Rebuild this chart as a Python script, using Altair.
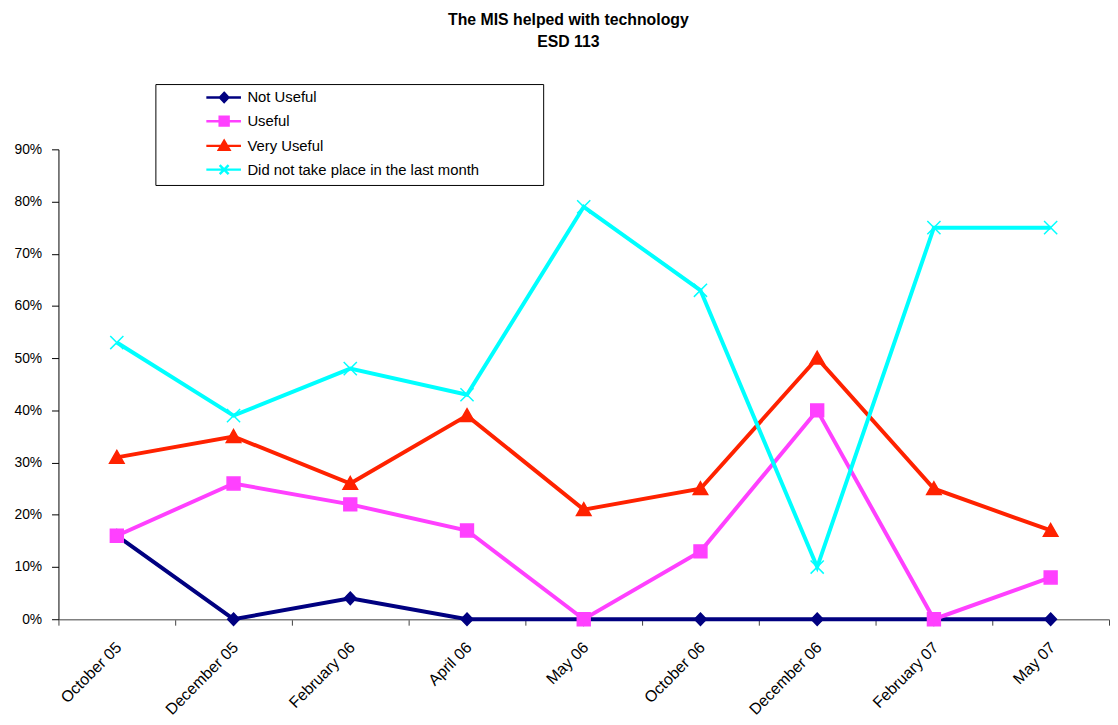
import altair as alt
import pandas as pd

months = ["October 05", "December 05", "February 06", "April 06", "May 06",
          "October 06", "December 06", "February 07", "May 07"]
series = ["Not Useful", "Useful", "Very Useful", "Did not take place in the last month"]

not_useful = [16, 0, 4, 0, 0, 0, 0, 0, 0]
useful = [16, 26, 22, 17, 0, 13, 40, 0, 8]
very_useful = [31, 35, 26, 39, 21, 25, 50, 25, 17]
did_not = [53, 39, 48, 43, 79, 63, 10, 75, 75]

colors = ["#000080", "#FF40FF", "#FF2200", "#00FFFF"]
y_ticks = [0, 0.1, 0.2, 0.3, 0.4, 0.5, 0.6, 0.7, 0.8, 0.9]

rows = []
for name, vals in zip(series, [not_useful, useful, very_useful, did_not]):
    for m, v in zip(months, vals):
        rows.append({"month": m, "series": name, "value": v / 100})
df = pd.DataFrame(rows)

# marker shapes on the chart
marker_paths = [
    "M0,-0.9L0.85,0L0,0.9L-0.85,0Z",
    "M-0.93,-0.93H0.93V0.93H-0.93Z",
    "M0,-1L1.05,0.85H-1.05Z",
    "M-0.95,-0.95L0.95,0.95M-0.95,0.95L0.95,-0.95",
]
# legend symbols: line segment with marker
legend_paths = [
    "M-3.6,0H3.4M0,-0.9L0.85,0L0,0.9L-0.85,0Z",
    "M-3.6,0H3.4M-0.9,-0.9H0.9V0.9H-0.9Z",
    "M-3.6,0H3.4M0,-1L1.05,0.8H-1.05Z",
    "M-3.6,0H3.4M-0.9,-0.9L0.9,0.9M-0.9,0.9L0.9,-0.9",
]

FONT = "Liberation Sans"

x_enc = alt.X("month:N", sort=months,
              scale=alt.Scale(domain=months, range=[0, 1062], paddingInner=0, paddingOuter=0),
              axis=alt.Axis(title=None, labelAngle=-45, labelAlign="right", labelBaseline="top",
                            labelFont=FONT, labelFontSize=16, labelColor="#000000",
                            labelPadding=14, labelOffset=-4, tickBand="extent", tickSize=6,
                            tickColor="#404040", domainColor="#808080", domainWidth=1.5,
                            grid=False, labelOverlap=False))
y_enc = alt.Y("value:Q",
              scale=alt.Scale(domain=[0, 0.9], nice=False),
              axis=alt.Axis(title=None, format=".0%", values=y_ticks, labelFont=FONT,
                            labelFontSize=14, labelColor="#000000", labelPadding=10,
                            tickSize=7, tickColor="#000000", domainColor="#000000",
                            grid=False))

base = alt.Chart(df)

lines = base.mark_line(strokeWidth=4).encode(
    x=x_enc, y=y_enc,
    color=alt.Color("series:N", scale=alt.Scale(domain=series, range=colors), legend=None),
    order=alt.Order("series:N"),
)

points = base.mark_point(filled=True, opacity=1, size=196, strokeWidth=1.5).encode(
    x=x_enc, y=y_enc,
    fill=alt.Fill("series:N", scale=alt.Scale(domain=series, range=colors), legend=None),
    stroke=alt.Stroke("series:N", scale=alt.Scale(domain=series, range=colors), legend=None),
    shape=alt.Shape("series:N", scale=alt.Scale(domain=series, range=marker_paths), legend=None),
)

# non-breaking spaces closed by a zero-width space so they are not trimmed
pad_right = "\u00a0" * 14 + "\u200b"
legend_kw = dict(title=" ", titleOrient="left", titlePadding=56, titleFontSize=6,
                 orient="none", legendX=98, legendY=-66,
                 strokeColor="#000000", fillColor="#FFFFFF", padding=6,
                 labelFont=FONT, labelFontSize=15, labelColor="#000000", labelLimit=800,
                 labelExpr=f"datum.label + '{pad_right}'",
                 labelOffset=16, rowPadding=5, symbolSize=100, symbolStrokeWidth=2.5)

legend_layer = base.transform_filter("datum.value < -1").mark_point(
    filled=True, opacity=1, size=100, strokeWidth=2.5).encode(
    x=x_enc, y=y_enc,
    fill=alt.Fill("series:N", scale=alt.Scale(domain=series, range=colors),
                  legend=alt.Legend(**legend_kw)),
    stroke=alt.Stroke("series:N", scale=alt.Scale(domain=series, range=colors),
                      legend=alt.Legend(**legend_kw)),
    shape=alt.Shape("series:N", scale=alt.Scale(domain=series, range=legend_paths),
                    legend=alt.Legend(**legend_kw)),
)

chart = alt.layer(lines, points, legend_layer).resolve_scale(
    shape="independent", fill="independent", stroke="independent"
).properties(
    width=1053, height=475,
    padding={"left": 5, "right": 0, "top": 0, "bottom": 0},
    title=alt.Title("The MIS helped with technology", subtitle="ESD 113",
                    font=FONT, fontSize=16, fontWeight="bold", color="#000000",
                    subtitleFont=FONT, subtitleFontSize=16, subtitleFontWeight="bold",
                    subtitleColor="#000000", subtitlePadding=6,
                    anchor="middle", dx=-11, offset=34),
).configure_view(stroke=None)

chart.save("out.html", embed_options={"renderer": "svg", "actions": False})
